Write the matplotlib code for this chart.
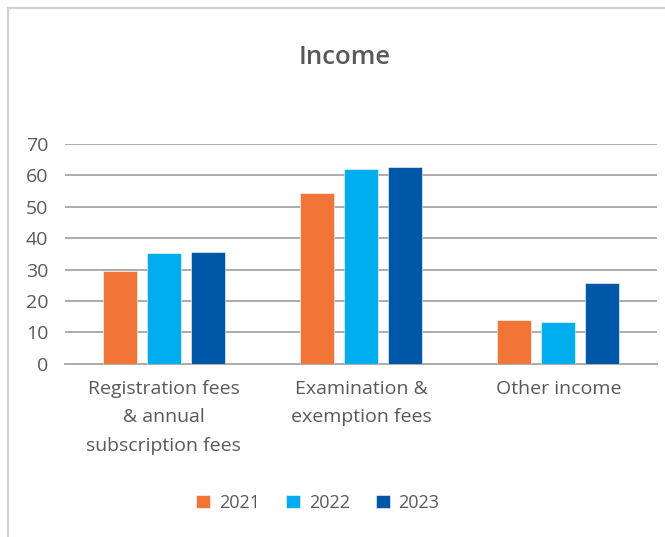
import matplotlib
matplotlib.use("Agg")
import matplotlib.pyplot as plt
import numpy as np
from matplotlib.patches import Rectangle

categories = ["Registration fees\n& annual\nsubscription fees",
              "Examination &\nexemption fees",
              "Other income"]
years = ["2021", "2022", "2023"]
values_2021 = [29.6, 54.3, 13.9]
values_2022 = [35.2, 61.9, 13.2]
values_2023 = [35.6, 62.7, 25.8]
colors = ["#F07537", "#00AEEF", "#0057A8"]
yticks = [0, 10, 20, 30, 40, 50, 60, 70]

text_color = "#595959"
grid_color = "#ABABAB"
font = "Open Sans"

fig = plt.figure(figsize=(6.65, 5.37), dpi=100)
ax = fig.add_axes([65 / 665, 1 - 363.7 / 537, 592 / 665, 219.7 / 537])

x = np.arange(len(categories))
width = 0.172
step = 0.223
series = [values_2021, values_2022, values_2023]
for i, (vals, year, c) in enumerate(zip(series, years, colors)):
    ax.bar(x + (i - 1) * step, vals, width, color=c, label=year, zorder=3,
           edgecolor="white", linewidth=0.4)

ax.set_xlim(-0.5, 2.5)
ax.set_ylim(0, 70)
ax.set_yticks(yticks)
ax.set_xticks(x)
ax.set_xticklabels(categories, fontsize=14, color=text_color,
                   family=font, linespacing=1.72, va="top")
ax.tick_params(axis="x", length=0, pad=12)
ax.tick_params(axis="y", length=0, pad=12, labelsize=14, labelcolor=text_color)
for lab in ax.get_yticklabels():
    lab.set_family(font)

ax.yaxis.grid(True, color=grid_color, linewidth=1.4, zorder=0)
for s in ["left", "right", "top"]:
    ax.spines[s].set_visible(False)
ax.spines["bottom"].set_color(grid_color)
ax.spines["bottom"].set_linewidth(1.4)

fig.text(345 / 665, 1 - 57 / 537, "Income", ha="center", va="center",
         fontsize=18.5, color=text_color, family=font, fontweight="semibold")

leg = fig.legend(loc="center", bbox_to_anchor=(318 / 665, 1 - 503 / 537),
                 ncol=3, frameon=False, handlelength=0.75,
                 handleheight=0.75, handletextpad=0.5, columnspacing=1.45,
                 prop={"family": font, "size": 13})
for t in leg.get_texts():
    t.set_color(text_color)

# outer frame of the chart area
fig.patches.append(Rectangle((8 / 665, -0.05), 1.1, 1 - 8 / 537 + 0.05,
                             transform=fig.transFigure, fill=False,
                             edgecolor="#D0D0D0", linewidth=1.6))

fig.savefig("out.png", dpi=100)
